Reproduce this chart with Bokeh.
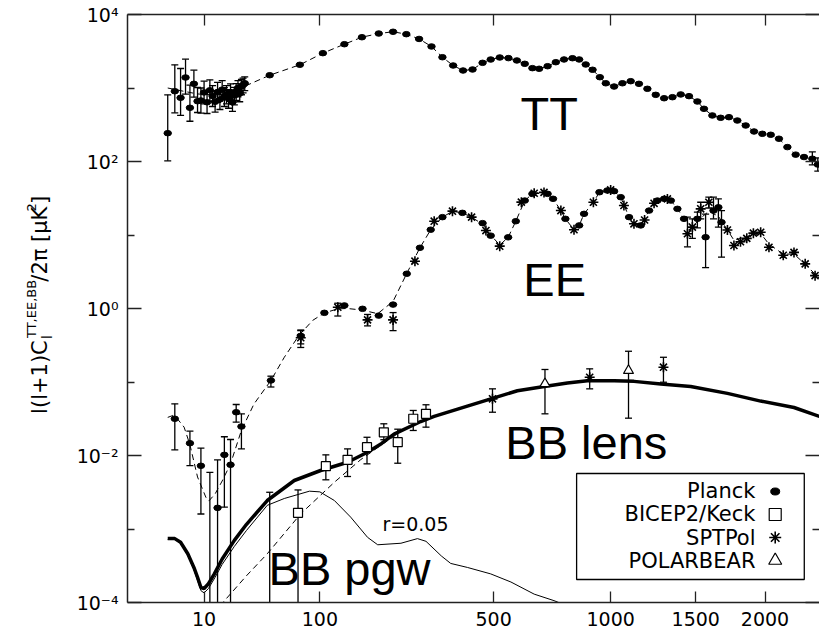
import numpy as np
from bokeh.plotting import figure
from bokeh.layouts import row
from bokeh.models import (Range1d, FixedTicker, CustomJSTickFormatter, LinearAxis,
                          LogAxis, Label, BoxAnnotation)
from bokeh.core.properties import value
from bokeh.embed import file_html
from bokeh.resources import INLINE

# ---------------- data (multipole ell, D_ell in uK^2) ----------------
x_tick_vals = [10, 100, 500, 1000, 1500, 2000]
y_major = [1e-4, 1e-2, 1e0, 1e2, 1e4]
y_minor = [1e-3, 1e-1, 1e1, 1e3]

# TT Planck low-ell
tt_low_ell = [2, 3, 4, 5, 6, 7, 8, 9, 10, 11, 12, 13, 14, 15, 16, 17, 18, 19, 20,
              21, 22, 23, 24, 25, 26, 27, 28, 29]
tt_low_D = [243, 904, 736, 1390, 538, 1140, 661, 676, 870, 640, 930, 780, 650, 880,
            700, 950, 760, 820, 720, 880, 640, 790, 900, 1000, 850, 1050, 1100, 1160]
tt_low_hi = [807, 2070, 1841, 2466, 1092, 1747, 1016, 1000, 1240, 930, 1290, 1080,
             910, 1190, 950, 1260, 1010, 1080, 950, 1140, 840, 1020, 1150, 1260, 1080,
             1310, 1360, 1420]
tt_low_lo = [102, 460, 423, 825, 353, 750, 464, 456, 610, 450, 660, 560, 470, 640,
             510, 700, 560, 610, 530, 660, 480, 590, 680, 760, 650, 810, 860, 920]
# TT Planck binned
tt_ell = [47, 76, 104, 135, 164, 195, 224, 253, 283, 314, 343, 373, 402, 431, 463,
          490, 521, 552, 583, 613, 643, 670, 705, 740, 776, 814, 845, 876, 909, 945,
          975, 1018, 1062, 1107, 1153, 1201, 1250, 1300, 1351, 1403, 1456, 1511, 1555,
          1612, 1670, 1729, 1790, 1852, 1915, 1979, 2045, 2111, 2180, 2249, 2320, 2392,
          2440]
tt_D = [1493, 2070, 2980, 3945, 4910, 5510, 5820, 5400, 4650, 3670, 2623, 2023, 1730,
        1786, 2200, 2440, 2600, 2550, 2370, 2133, 1863, 1826, 1980, 2244, 2444, 2543,
        2444, 2090, 1770, 1403, 1160, 1047, 1160, 1238, 1140, 975, 807, 726, 750, 817,
        775, 655, 521, 423, 393, 401, 361, 309, 256, 238, 231, 204, 157, 124, 115, 109,
        91]
tt_err_ell = [2392, 2440]
tt_err_hi = [135, 112]
tt_err_lo = [90, 74]
# TT model (low-ell part; continues through binned points)
tt_model_low_ell = [2, 4, 8, 15, 22, 30]
tt_model_low = [1000, 920, 830, 800, 880, 1080]

# EE Planck low-ell
ee_low_ell = [3, 6, 9, 12, 15, 18, 21, 24, 27, 48]
ee_low_D = [0.0316, 0.0147, 0.00724, 3e-5, 0.00194, 0.0102, 0.00747, 0.0388, 0.0248, 0.105]
ee_low_hi = [0.0505, 0.0214, 0.0126, 0.0059, 0.0087, 0.018, 0.0165, 0.0494, 0.0369, 0.12]
ee_low_lo = [0.0119, 0.0073, 0.0016, 1e-6, 1e-6, 0.00198, 1e-6, 0.0284, 0.0123, 0.0855]
# EE Planck
ee_pl_ell = [77, 106, 135, 165, 195, 224, 254, 285, 312, 343, 400, 463, 490, 551, 579,
             613, 643, 705, 728, 782, 845, 868, 943, 983, 1018, 1053, 1098, 1163, 1211,
             1260, 1300, 1341, 1382, 1424, 1511, 1566, 1620, 1654, 1676]
ee_pl_D = [0.424, 0.873, 1.10, 0.99, 0.80, 1.13, 2.97, 6.7, 11.8, 17.5, 20.0, 14.5, 9.8,
           9.3, 15.4, 29.4, 36.3, 36.3, 31.1, 16.6, 13.5, 19.4, 38.2, 40.3, 39.5, 32.7,
           17.5, 13.5, 21.5, 29.4, 31.1, 29.4, 22.7, 16.6, 16.6, 9.33, 21.5, 23.8, 14.9]
ee_pl_err_ell = [77, 1511, 1566, 1620, 1654, 1676]
ee_pl_err_hi = [0.51, 20.5, 19.2, 32.7, 31.1, 21.5]
ee_pl_err_lo = [0.295, 12.5, 3.6, 16.6, 12.8, 5.0]
# EE SPTpol
ee_sp_ell = [77, 125, 174, 224, 273, 321, 371, 428, 474, 521, 600, 650, 690, 762, 821,
             913, 1000, 1070, 1125, 1185, 1240, 1320, 1446, 1478, 1533, 1588, 1718, 1765,
             1813, 1860, 1910, 1966, 2031, 2146, 2235, 2330, 2416]
ee_sp_D = [0.40, 1.04, 0.70, 0.70, 4.4, 15.4, 21.1, 17.5, 11.5, 7.05, 28.0, 37.0, 38.0,
           21.5, 11.8, 27.9, 41.0, 25.2, 14.2, 16.0, 27.0, 31.0, 10.4, 12.8, 22.7, 27.9,
           11.7, 7.2, 8.1, 9.0, 10.6, 10.9, 6.8, 5.3, 5.8, 4.05, 2.8]
ee_sp_err_ell = [77, 125, 174, 224, 1446, 1478, 1533, 1588]
ee_sp_err_hi = [0.5, 1.18, 0.83, 0.88, 17.5, 16.6, 27.9, 32.7]
ee_sp_err_lo = [0.33, 0.79, 0.58, 0.50, 6.9, 9.0, 16.6, 23.3]
# EE model
ee_model_ell = [2, 2.7, 3.5, 4.7, 6, 8, 10.6, 11.6, 14, 17, 21, 27, 35, 48, 60, 75, 91,
                106, 125, 140, 165, 193, 224, 254, 285, 312, 343, 371, 400, 428, 463, 490,
                521, 551, 579, 613, 643, 675, 705, 728, 762, 782, 821, 845, 868, 913, 943,
                983, 1018, 1053, 1098, 1125, 1163, 1211, 1260, 1300, 1341, 1382, 1424,
                1478, 1533, 1588, 1654, 1718, 1765, 1860, 1966, 2031, 2146, 2235, 2330,
                2450]
ee_model = [0.033, 0.035, 0.031, 0.0243, 0.014, 0.0051, 0.0027, 0.0024, 0.003, 0.0045,
            0.0077, 0.022, 0.05, 0.105, 0.217, 0.43, 0.69, 0.87, 0.99, 1.0, 0.95, 0.85,
            1.25, 3.0, 6.7, 11.8, 17.5, 21.0, 20.0, 17.5, 14.0, 10.0, 7.3, 9.3, 15.4, 29.4,
            36.3, 38.0, 36.3, 31.1, 21.5, 16.6, 11.8, 13.5, 19.4, 27.9, 38.2, 40.3, 39.5,
            32.7, 17.5, 14.2, 13.5, 21.5, 29.4, 31.1, 29.4, 22.7, 16.6, 12.8, 17.0, 21.0,
            18.0, 11.7, 8.5, 9.5, 10.5, 7.5, 5.5, 5.5, 4.0, 2.6]

# BB total (lens + r=0.05), thick line
bb_tot_ell = [2, 3, 4, 5.5, 7, 8, 9, 10, 11.5, 13.7, 17, 23, 30, 45, 70, 101, 140, 173,
              200, 226, 287, 321, 415, 496, 585, 691, 791, 884, 1018, 1125, 1280, 1467,
              1718, 1966, 2235, 2455]
bb_tot = [7.4e-4, 7.4e-4, 6.6e-4, 4.6e-4, 3.0e-4, 2.2e-4, 1.6e-4, 1.55e-4, 1.8e-4,
          2.45e-4, 3.9e-4, 7.0e-4, 1.15e-3, 2.44e-3, 4.57e-3, 6.25e-3, 8.1e-3, 1.1e-2,
          1.45e-2, 1.95e-2, 2.9e-2, 3.4e-2, 4.7e-2, 6.0e-2, 7.6e-2, 8.7e-2, 9.7e-2, 0.104,
          0.104, 0.102, 0.094, 0.087, 0.070, 0.055, 0.045, 0.034]
# BB primordial r=0.05, thin line
bb_r_ell = [2, 3, 4, 5.5, 7, 8, 9, 10, 11.5, 14, 17, 23, 30, 45, 60, 87, 100, 120, 145,
            174, 193, 241, 279, 300, 340, 366, 415, 490, 561, 650, 732, 790]
bb_r = [7.2e-4, 7.2e-4, 6.4e-4, 4.4e-4, 2.8e-4, 2.0e-4, 1.45e-4, 1.35e-4, 1.55e-4,
        2.2e-4, 3.3e-4, 5.8e-4, 9.5e-4, 2.1e-3, 2.6e-3, 3.27e-3, 3.2e-3, 2.44e-3, 1.45e-3,
        7.7e-4, 6.1e-4, 6.4e-4, 7.4e-4, 6.8e-4, 4.3e-4, 3.4e-4, 3.0e-4, 2.45e-4, 1.9e-4,
        1.3e-4, 1.06e-4, 9.0e-5]
# BB lensing only, dashed
bb_lens_ell = [16, 21, 30, 45, 77, 120, 162, 200, 230]
bb_lens = [9e-5, 1.31e-4, 2.3e-4, 4.6e-4, 1.61e-3, 4.33e-3, 8.8e-3, 1.39e-2, 1.9e-2]

# BB data
bk_ell = [47, 74, 108, 140, 173, 205, 234, 269, 300]
bk_D = [3e-5, 0.00166, 0.00715, 0.00873, 0.013, 0.0207, 0.0152, 0.0316, 0.0369]
bk_hi = [0.00316, 0.0034, 0.0102, 0.0123, 0.0177, 0.027, 0.0228, 0.041, 0.049]
bk_lo = [1e-6, 1e-6, 0.00467, 0.00518, 0.0077, 0.0164, 0.00785, 0.0219, 0.0243]
spt_bb_ell = [496, 895, 1296]
spt_bb_D = [0.059, 0.116, 0.159]
spt_bb_hi = [0.0807, 0.151, 0.217]
spt_bb_lo = [0.0388, 0.0807, 0.0993]
pb_ell = [694, 1095]
pb_D = [0.0946, 0.143]
pb_hi = [0.148, 0.262]
pb_lo = [0.0369, 0.0322]

legend_names = ["Planck", "BICEP2/Keck", "SPTPol", "POLARBEAR"]

# ---------------- scales ----------------
POW = 0.4
ELL_MAX = 2455
XMAX = ELL_MAX ** POW
YLOG0, YLOG1 = -4, 4
SIDE_W = 60
BASE_SHIFT = 0.36  # empirical baseline correction (fraction of font size)


def tx(ell):
    return np.asarray(ell, dtype=float) ** POW


def fxy(fx, fy):
    return fx * XMAX, 10 ** (YLOG0 + (YLOG1 - YLOG0) * fy)


FONT = "DejaVu Sans"
BIG = "Liberation Sans"
AX = "#222222"

p = figure(width=819 - SIDE_W, height=636, x_range=Range1d(0, XMAX),
           y_range=Range1d(10 ** YLOG0, 10 ** YLOG1), y_axis_type="log",
           output_backend="svg", toolbar_location=None,
           min_border_left=127 - SIDE_W, min_border_right=0, min_border_top=14,
           min_border_bottom=34)
p.outline_line_color = None
p.xgrid.visible = False
p.ygrid.visible = False

xticker = FixedTicker(ticks=list(tx(x_tick_vals)))
yticker = FixedTicker(ticks=y_major, minor_ticks=y_minor)
blank = CustomJSTickFormatter(code="return '';")

xa = p.xaxis[0]
xa.ticker = xticker
xa.formatter = CustomJSTickFormatter(code="return String(Math.round(Math.pow(tick, 2.5)));")
xa.major_tick_in = 11
xa.major_tick_out = 0
xa.minor_tick_line_color = None
xa.axis_line_width = 1.5
xa.axis_line_color = AX
xa.major_tick_line_color = AX
xa.major_tick_line_width = 1.3
xa.major_label_text_font = FONT
xa.major_label_text_font_size = "19px"
xa.major_label_text_color = "black"
xa.major_label_standoff = 9

ya = p.yaxis[0]
ya.ticker = yticker
ya.formatter = CustomJSTickFormatter(code="""
const e = Math.round(Math.log10(tick));
const m = {"-4": "\u207b\u2074", "-2": "\u207b\u00b2", "0": "\u2070", "2": "\u00b2", "4": "\u2074"};
return "10" + m[String(e)];
""")
ya.major_tick_in = 14
ya.major_tick_out = 0
ya.minor_tick_in = 7
ya.minor_tick_out = 0
ya.axis_line_width = 1.5
ya.axis_line_color = AX
ya.major_tick_line_color = AX
ya.minor_tick_line_color = AX
ya.major_tick_line_width = 1.3
ya.minor_tick_line_width = 1.3
ya.major_label_text_font = FONT
ya.major_label_text_font_size = "19px"
ya.major_label_text_color = "black"
ya.major_label_standoff = 9

top = LinearAxis(ticker=xticker, formatter=blank, major_tick_in=11, major_tick_out=0,
                 minor_tick_line_color=None, major_label_text_font_size="0px",
                 major_label_standoff=0, axis_line_width=1.5, axis_line_color=AX,
                 major_tick_line_color=AX, major_tick_line_width=1.3)
p.add_layout(top, "above")
right = LogAxis(ticker=yticker, formatter=blank, major_tick_in=14, major_tick_out=0,
                minor_tick_in=7, minor_tick_out=0, axis_line_color=None,
                major_label_text_font_size="0px", major_label_standoff=0,
                major_tick_line_color=AX, minor_tick_line_color=AX,
                major_tick_line_width=1.3, minor_tick_line_width=1.3)
p.add_layout(right, "right")

# ---------------- curves ----------------
DASH = "6 4"
p.line(tx(tt_model_low_ell + tt_ell), tt_model_low + tt_D, line_color="black",
       line_width=1, line_dash=DASH)
p.line(tx(ee_model_ell), ee_model, line_color="black", line_width=1, line_dash=DASH)
p.line(tx(bb_lens_ell), bb_lens, line_color="black", line_width=1, line_dash=DASH)
p.line(tx(bb_tot_ell), bb_tot, line_color="black", line_width=3.5)
p.line(tx(bb_r_ell), bb_r, line_color="black", line_width=1)


def errbars(ell, lo, hi, lw=1.3, cap=7):
    x = tx(ell)
    p.segment(x0=x, y0=lo, x1=x, y1=hi, line_color="black", line_width=lw)
    p.scatter(x=x, y=hi, marker="dash", size=cap, line_color="black", line_width=lw)
    p.scatter(x=x, y=lo, marker="dash", size=cap, line_color="black", line_width=lw)


errbars(tt_low_ell, tt_low_lo, tt_low_hi)
errbars(tt_err_ell, tt_err_lo, tt_err_hi)
errbars(ee_low_ell, ee_low_lo, ee_low_hi)
errbars(ee_pl_err_ell, ee_pl_err_lo, ee_pl_err_hi)
errbars(ee_sp_err_ell, ee_sp_err_lo, ee_sp_err_hi)
errbars(bk_ell, bk_lo, bk_hi)
errbars(spt_bb_ell, spt_bb_lo, spt_bb_hi)
errbars(pb_ell, pb_lo, pb_hi)


def dots(ell, D):
    p.ellipse(x=tx(ell), y=D, width=7.5, height=5.5, width_units="screen",
              height_units="screen", fill_color="black", line_color="black")


def stars(ell, D):
    p.scatter(x=tx(ell), y=D, marker="asterisk", size=10, line_color="black",
              line_width=1.6)


dots(tt_low_ell, tt_low_D)
dots(tt_ell, tt_D)
dots(ee_low_ell, ee_low_D)
dots(ee_pl_ell, ee_pl_D)
stars(ee_sp_ell, ee_sp_D)
stars(spt_bb_ell, spt_bb_D)
p.scatter(x=tx(bk_ell), y=bk_D, marker="square", size=9, fill_color="white",
          line_color="black", line_width=1.2)
p.scatter(x=tx(pb_ell), y=pb_D, marker="triangle", size=10, fill_color="white",
          line_color="black", line_width=1.2)

# ---------------- text labels ----------------
for txt, fx, fy, fs in [("TT", 0.568, 0.8027, 47), ("EE", 0.572, 0.5204, 47),
                        ("BB lens", 0.546, 0.2432, 47), ("BB pgw", 0.2038, 0.0289, 47),
                        ("r=0.05", 0.3685, 0.1224, 19)]:
    x, y = fxy(fx, fy + BASE_SHIFT * fs / 588.0)
    p.add_layout(Label(x=x, y=y, text=txt, text_font=BIG if fs > 30 else FONT,
                       text_font_size=f"{fs}px", text_color="black",
                       text_align="left", text_baseline="alphabetic"))

# ---------------- legend ----------------
bl, bb_ = fxy(0.649, 0.0391)
br, bt = fxy(0.978, 0.2194)
p.add_layout(BoxAnnotation(left=bl, right=br, bottom=bb_, top=bt, fill_color="white",
                           fill_alpha=1, line_color="black", line_alpha=1,
                           line_width=1.3, level="underlay"))
rows = [0.1888, 0.1497, 0.1105, 0.0714]
for name, fy in zip(legend_names, rows):
    x, y = fxy(0.9075, fy)
    p.add_layout(Label(x=x, y=y, text=name, text_font=FONT, text_font_size="21px",
                       text_color="black", text_align="right", text_baseline="middle"))
mx, my0 = fxy(0.936, rows[0])
_, my1 = fxy(0.936, rows[1])
_, my2 = fxy(0.936, rows[2])
_, my3 = fxy(0.936, rows[3])
p.ellipse(x=[mx], y=[my0], width=9, height=7, width_units="screen",
          height_units="screen", fill_color="black", line_color="black")
p.scatter(x=[mx], y=[my1], marker="square", size=12, fill_color="white",
          line_color="black", line_width=1.2)
p.scatter(x=[mx], y=[my2], marker="asterisk", size=12, line_color="black",
          line_width=1.6)
p.scatter(x=[mx], y=[my3], marker="triangle", size=13, fill_color="white",
          line_color="black", line_width=1.2)

# ---------------- y-axis title (rotated pieces, in a side panel) ----------------
side = figure(width=SIDE_W, height=636, x_range=Range1d(0, SIDE_W),
              y_range=Range1d(0, 636), output_backend="svg", toolbar_location=None,
              x_axis_location=None, y_axis_location=None, min_border=0)
side.outline_line_color = None
side.xgrid.visible = False
side.ygrid.visible = False
# (text, baseline x [px], start y from top [px], font size)
ylab = [("l(l+1)C", 47, 432, 21),
        ("l", 52, 351, 14),
        ("TT,EE,BB", 36, 350, 13),
        ("/2\u03c0 [\u03bcK", 47, 289, 21),
        ("2", 36, 213, 13),
        ("]", 47, 205, 21)]
for txt, bx, sy, fs in ylab:
    side.text(x=[bx - BASE_SHIFT * fs], y=[636 - sy], text=[txt], angle=np.pi / 2,
              text_font=value(FONT), text_font_size=value(f"{fs}px"),
              text_color="black", text_align="left", text_baseline="alphabetic")

layout = row(side, p)
open("out.html", "w", encoding="utf-8").write(file_html(layout, INLINE))
